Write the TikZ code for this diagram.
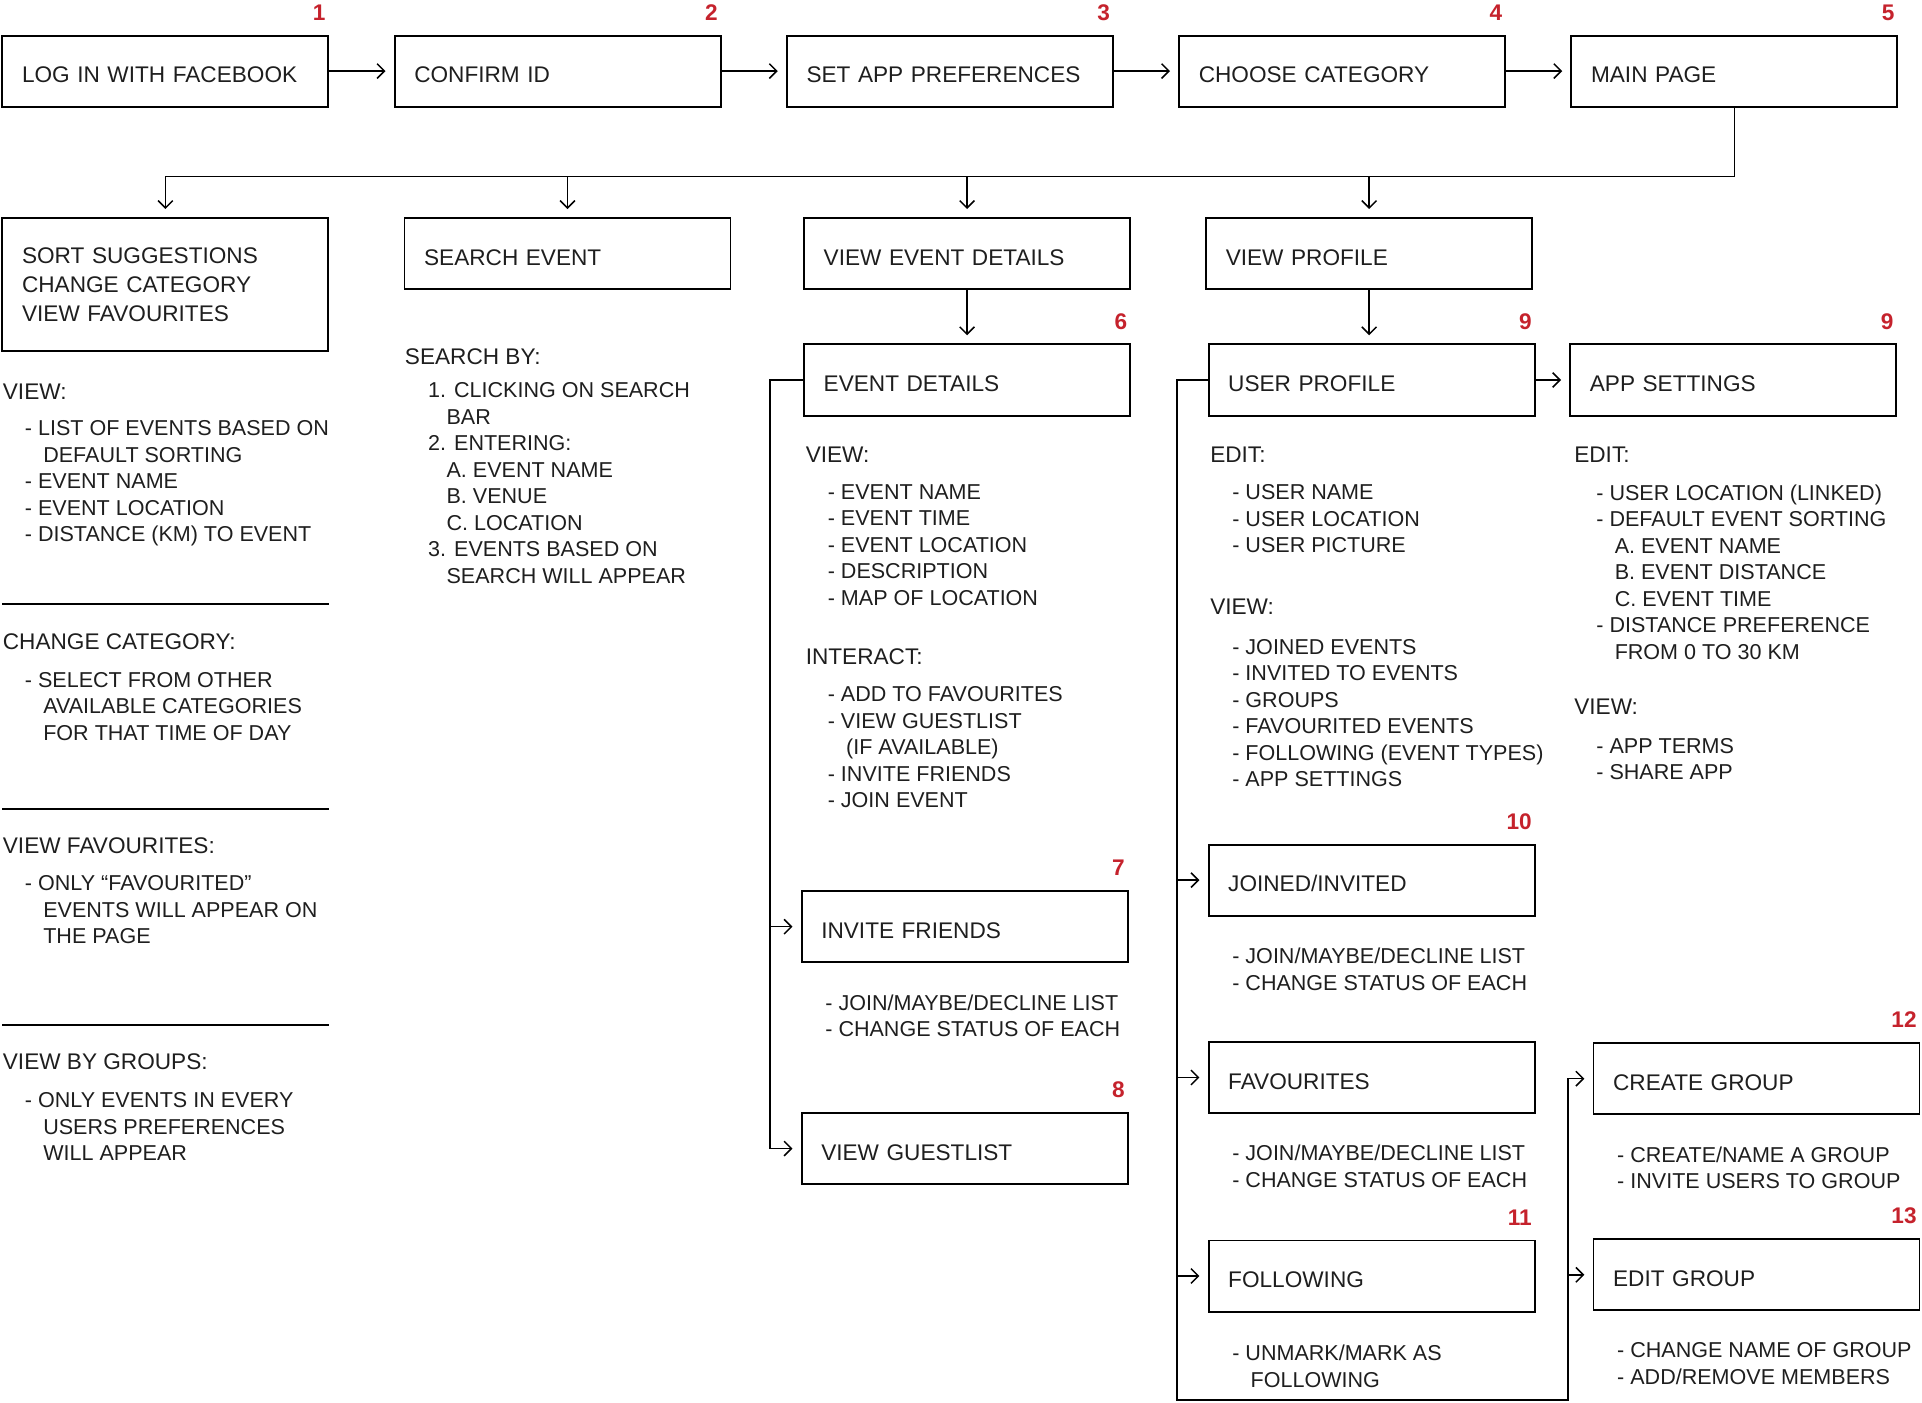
\documentclass[tikz,border=0pt]{standalone}
\usepackage{fontspec}
\setmainfont{Liberation Sans}
\usetikzlibrary{arrows.meta}
\definecolor{numred}{HTML}{C5222C}
\definecolor{txt}{HTML}{1E1E1E}
\newcommand{\indnt}{\hspace*{0.3cm}}

\begin{document}
\begin{tikzpicture}[x=0.02cm,y=-0.02cm,
  frame/.style={draw, line width=0.9pt, anchor=north west, outer sep=0pt,
    minimum height=1.16cm, text width=4.68cm, inner xsep=0.32cm, inner ysep=0pt,
    align=left, text=txt, font=\fontsize{10.5}{12.6}\selectfont},
  box/.style={frame, text height=10.9pt, text depth=0pt},
  num/.style={anchor=base east, inner sep=0pt, text=numred,
    font=\bfseries\fontsize{10.5}{12}\selectfont},
  hd/.style={anchor=north west, inner sep=0pt, align=left, text=txt,
    font=\fontsize{10.5}{12.6}\selectfont},
  itm/.style={anchor=north west, inner sep=0pt, align=left, text=txt,
    font=\fontsize{10}{12.3}\selectfont},
  conn/.style={line width=0.7pt},
  arr/.style={conn, shorten >=0.15cm, -{Straight Barb[length=1.2mm,width=2.4mm]}},
  div/.style={line width=0.9pt}]

\useasboundingbox (0,0) rectangle (1568,1144);

% top row
\node[box] (login) at (2,29) {LOG IN WITH FACEBOOK};
\node[box] (confirm) at (322,29) {CONFIRM ID};
\node[box] (prefs) at (642,29) {SET APP PREFERENCES};
\node[box] (category) at (962,29) {CHOOSE CATEGORY};
\node[box] (main) at (1282,29) {MAIN PAGE};

\node[num] (n1) at ([shift={(-0.04cm,0.25cm)}]login.north east) {1};
\node[num] (n2) at ([shift={(-0.04cm,0.25cm)}]confirm.north east) {2};
\node[num] (n3) at ([shift={(-0.04cm,0.25cm)}]prefs.north east) {3};
\node[num] (n4) at ([shift={(-0.04cm,0.25cm)}]category.north east) {4};
\node[num] (n5) at ([shift={(-0.04cm,0.25cm)}]main.north east) {5};

\draw[arr] (login) -- (confirm);
\draw[arr] (confirm) -- (prefs);
\draw[arr] (prefs) -- (category);
\draw[arr] (category) -- (main);

% second row
\coordinate (bus) at (0,144);
\node[frame, minimum height=2.16cm, font=\fontsize{10.5}{13.4}\selectfont] (sort) at (2,178)
  {SORT SUGGESTIONS\\CHANGE CATEGORY\\VIEW FAVOURITES};
\node[box] (search) at (330,178) {SEARCH EVENT};
\node[box] (viewev) at (656,178) {VIEW EVENT DETAILS};
\node[box] (viewpr) at (984,178) {VIEW PROFILE};

\draw[conn] (main.south) |- (sort.north |- bus);
\foreach \n in {sort,search,viewev,viewpr}
  \draw[arr] (\n.north |- bus) -- (\n.north);

% sort column
\node[hd] (sortvw) at (2,313) {VIEW:};
\node[itm] (sortvwl) at (20,343) {- LIST OF EVENTS BASED ON\\\indnt DEFAULT SORTING\\- EVENT NAME\\- EVENT LOCATION\\- DISTANCE (KM) TO EVENT};
\draw[div] (2,493) -- (268,493);
\node[hd] (sortcc) at (2,517) {CHANGE CATEGORY:};
\node[itm] (sortccl) at (20,548) {- SELECT FROM OTHER\\\indnt AVAILABLE CATEGORIES\\\indnt FOR THAT TIME OF DAY};
\draw[div] (2,660) -- (268,660);
\node[hd] (sortvf) at (2,683) {VIEW FAVOURITES:};
\node[itm] (sortvfl) at (20,714) {- ONLY “FAVOURITED”\\\indnt EVENTS WILL APPEAR ON\\\indnt THE PAGE};
\draw[div] (2,836) -- (268,836);
\node[hd] (sortvg) at (2,859) {VIEW BY GROUPS:};
\node[itm] (sortvgl) at (20,891) {- ONLY EVENTS IN EVERY\\\indnt USERS PREFERENCES\\\indnt WILL APPEAR};

% search column
\node[hd] (srchby) at (330,284) {SEARCH BY:};
\node[itm] (srchbyl) at (349,312) {1. CLICKING ON SEARCH\\\indnt BAR\\2. ENTERING:\\\indnt A. EVENT NAME\\\indnt B. VENUE\\\indnt C. LOCATION\\3. EVENTS BASED ON\\\indnt SEARCH WILL APPEAR};

% event details column
\node[box] (evdet) at (656,281) {EVENT DETAILS};
\node[num] (n6) at ([shift={(-0.04cm,0.25cm)}]evdet.north east) {6};
\draw[arr] (viewev) -- (evdet);
\node[hd] (evvw) at (657,364) {VIEW:};
\node[itm] (evvwl) at (675,395) {- EVENT NAME\\- EVENT TIME\\- EVENT LOCATION\\- DESCRIPTION\\- MAP OF LOCATION};
\node[hd] (evint) at (657,529) {INTERACT:};
\node[itm] (evintl) at (675,560) {- ADD TO FAVOURITES\\- VIEW GUESTLIST\\\indnt (IF AVAILABLE)\\- INVITE FRIENDS\\- JOIN EVENT};

\node[box] (invite) at (654,727) {INVITE FRIENDS};
\node[num] (n7) at ([shift={(-0.04cm,0.25cm)}]invite.north east) {7};
\node[itm] (invitel) at (673,811) {- JOIN/MAYBE/DECLINE LIST\\- CHANGE STATUS OF EACH};
\node[box] (guest) at (654,908) {VIEW GUESTLIST};
\node[num] (n8) at ([shift={(-0.04cm,0.25cm)}]guest.north east) {8};

\coordinate (evbus) at (628,0);
\draw[arr] (evdet.west) -| (evbus |- guest.west) -- (guest.west);
\draw[arr] (evbus |- invite.west) -- (invite.west);

% profile column
\node[box] (uprof) at (986,281) {USER PROFILE};
\node[num] (n9) at ([shift={(-0.04cm,0.25cm)}]uprof.north east) {9};
\draw[arr] (viewpr.south) -- (viewpr.south |- uprof.north);
\node[hd] (upedit) at (987,364) {EDIT:};
\node[itm] (upeditl) at (1005,395) {- USER NAME\\- USER LOCATION\\- USER PICTURE};
\node[hd] (upvw) at (987,488) {VIEW:};
\node[itm] (upvwl) at (1005,521) {- JOINED EVENTS\\- INVITED TO EVENTS\\- GROUPS\\- FAVOURITED EVENTS\\- FOLLOWING (EVENT TYPES)\\- APP SETTINGS};

\node[box] (joined) at (986,689) {JOINED/INVITED};
\node[num] (n10) at ([shift={(-0.04cm,0.25cm)}]joined.north east) {10};
\node[itm] (joinedl) at (1005,773) {- JOIN/MAYBE/DECLINE LIST\\- CHANGE STATUS OF EACH};
\node[box] (favs) at (986,850) {FAVOURITES};
\node[itm] (favsl) at (1005,934) {- JOIN/MAYBE/DECLINE LIST\\- CHANGE STATUS OF EACH};
\node[box] (follow) at (986,1012) {FOLLOWING};
\node[num] (n11) at ([shift={(-0.04cm,0.25cm)}]follow.north east) {11};
\node[itm] (followl) at (1005,1097) {- UNMARK/MARK AS\\\indnt FOLLOWING};

% app settings column
\node[box] (appset) at (1281,281) {APP SETTINGS};
\node[num] (n9b) at ([shift={(-0.04cm,0.25cm)}]appset.north east) {9};
\draw[arr] (uprof) -- (appset);
\node[hd] (asedit) at (1284,364) {EDIT:};
\node[itm] (aseditl) at (1302,395) {- USER LOCATION (LINKED)\\- DEFAULT EVENT SORTING\\\indnt A. EVENT NAME\\\indnt B. EVENT DISTANCE\\\indnt C. EVENT TIME\\- DISTANCE PREFERENCE\\\indnt FROM 0 TO 30 KM};
\node[hd] (asvw) at (1284,570) {VIEW:};
\node[itm] (asvwl) at (1302,602) {- APP TERMS\\- SHARE APP};

% groups
\node[box] (create) at (1300,851) {CREATE GROUP};
\node[num] (n12) at ([shift={(-0.04cm,0.25cm)}]create.north east) {12};
\node[itm] (createl) at (1319,935) {- CREATE/NAME A GROUP\\- INVITE USERS TO GROUP};
\node[box] (editgr) at (1300,1011) {EDIT GROUP};
\node[num] (n13) at ([shift={(-0.04cm,0.25cm)}]editgr.north east) {13};
\node[itm] (editgrl) at (1319,1095) {- CHANGE NAME OF GROUP\\- ADD/REMOVE MEMBERS};

\coordinate (pbusl) at (960,0);
\coordinate (pbusr) at (1279,0);
\coordinate (pbot) at (0,1142);
\draw[arr] (uprof.west) -| (pbusl |- pbot) -| (pbusr |- create.west) -- (create.west);
\foreach \n in {joined,favs,follow}
  \draw[arr] (pbusl |- \n.west) -- (\n.west);
\draw[arr] (pbusr |- editgr.west) -- (editgr.west);

\end{tikzpicture}
\end{document}
